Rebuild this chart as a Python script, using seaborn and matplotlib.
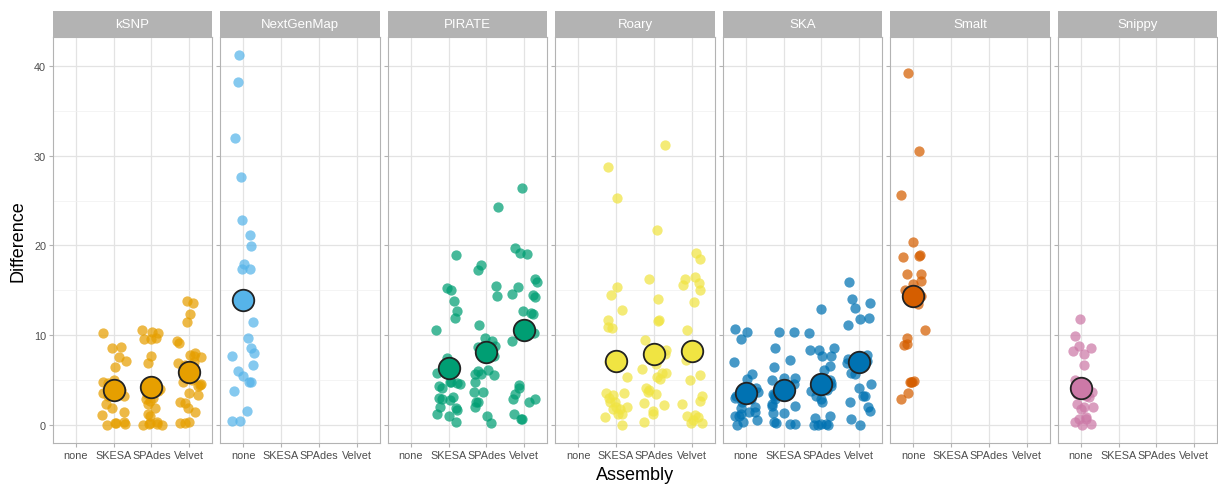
import numpy as np
import pandas as pd
import matplotlib
matplotlib.use("Agg")
import matplotlib.pyplot as plt
from matplotlib.patches import Rectangle
import seaborn as sns

# Categories
assemblies = ["none", "SKESA", "SPAdes", "Velvet"]
tools = ["kSNP", "NextGenMap", "PIRATE", "Roary", "SKA", "Smalt", "Snippy"]
tool_colors = ["#E69F00", "#56B4E9", "#009E73", "#F0E442", "#0072B2", "#D55E00", "#CC79A7"]

# Per-sample differences, by tool and assembler
ksnp_skesa = [10.2, 8.7, 8.5, 7.5, 7.1, 6.4, 5.0, 4.7, 4.6, 4.3, 4.0, 3.9, 3.7, 3.5,
              3.2, 3.2, 2.3, 1.9, 1.4, 1.1, 0.2, 0.1, 0.0, 0.2, 0.3]
ksnp_spades = [10.6, 10.3, 10.2, 9.7, 9.6, 9.5, 7.6, 6.9, 4.6, 4.3, 4.0, 3.8, 3.4,
               3.0, 2.8, 2.6, 2.3, 1.9, 1.2, 1.0, 0.3, 0.1, 0.0, 0.0, 0.1, 0.2]
ksnp_velvet = [13.8, 13.6, 12.3, 11.5, 9.3, 9.1, 8.0, 7.8, 7.6, 7.5, 7.0, 6.9, 6.6,
               5.0, 4.7, 4.5, 4.4, 4.3, 3.5, 3.3, 2.5, 2.4, 1.9, 1.4, 0.3, 0.2, 0.2]
nextgenmap_none = [41.2, 38.2, 32.0, 27.6, 22.8, 21.2, 19.9, 17.9, 17.4, 17.4, 11.4, 9.7,
                   8.5, 8.0, 7.7, 6.6, 6.0, 5.4, 4.7, 4.7, 3.8, 1.5, 0.4, 0.4]
pirate_skesa = [18.9, 15.2, 15.0, 13.8, 12.7, 11.9, 10.5, 7.4, 6.5, 5.8, 4.8, 4.7, 4.6,
                4.5, 4.3, 4.1, 3.1, 3.0, 2.9, 2.7, 2.0, 1.8, 1.6, 1.2, 1.0, 0.3]
pirate_spades = [24.3, 17.8, 17.3, 15.5, 14.4, 11.1, 9.7, 9.3, 8.8, 8.7, 8.2, 7.6, 6.1,
                 6.0, 5.6, 5.6, 5.5, 4.7, 3.6, 3.6, 2.5, 2.5, 2.0, 0.9, 0.2]
pirate_velvet = [26.4, 19.7, 19.1, 19.0, 16.2, 15.9, 15.3, 14.6, 14.5, 14.2, 12.7, 12.4,
                 12.3, 10.8, 10.2, 9.3, 4.4, 4.1, 3.4, 2.9, 2.8, 2.5, 1.2, 0.6, 0.6]
roary_skesa = [28.7, 25.3, 15.3, 14.5, 12.8, 11.7, 10.9, 10.8, 7.5, 7.0, 5.3, 3.5, 3.5,
               3.3, 3.0, 2.5, 2.5, 2.0, 2.0, 1.7, 1.7, 1.2, 1.2, 0.8, 0.0]
roary_spades = [31.2, 21.7, 16.3, 14.0, 11.7, 11.6, 9.4, 8.3, 7.9, 7.4, 6.8, 6.2, 5.8,
                5.8, 5.3, 5.1, 4.1, 3.9, 3.6, 3.4, 2.4, 2.2, 1.5, 1.2, 0.3]
roary_velvet = [19.1, 18.5, 16.5, 16.3, 15.8, 15.6, 15.0, 13.7, 10.6, 8.8, 8.2, 7.2, 5.5,
                5.0, 3.2, 2.6, 2.3, 1.1, 0.9, 0.8, 0.5, 0.2, 0.2]
ska_none = [10.7, 10.3, 9.6, 7.0, 5.6, 5.1, 4.1, 4.0, 3.8, 3.6, 3.2, 3.0, 2.8, 2.8, 2.5,
            2.0, 1.9, 1.4, 1.4, 1.2, 0.9, 0.9, 0.5, 0.3, 0.0]
ska_skesa = [10.3, 10.3, 8.5, 7.2, 6.4, 5.2, 5.2, 5.0, 4.5, 4.3, 4.0, 3.6, 3.4, 3.3, 3.2,
             2.9, 2.3, 2.1, 2.1, 1.3, 1.3, 0.3, 0.2, 0.1, 0.1]
ska_spades = [12.9, 10.2, 8.6, 8.3, 8.3, 7.6, 7.6, 6.5, 6.1, 5.0, 5.0, 4.6, 4.3, 3.9, 3.7,
              3.2, 2.8, 2.5, 1.0, 0.7, 0.1, 0.0, 0.0, 0.0, 0.1]
ska_velvet = [15.9, 14.0, 13.6, 13.0, 11.9, 11.8, 11.1, 7.8, 7.3, 7.1, 6.9, 6.7, 5.8, 5.6,
              4.5, 4.1, 3.2, 3.2, 2.5, 2.0, 1.5, 0.6, 0.0]
smalt_none = [39.2, 30.5, 25.6, 20.4, 18.9, 18.8, 18.7, 16.8, 16.8, 16.0, 15.7, 15.0, 14.5,
              14.3, 13.5, 10.6, 9.7, 9.0, 8.9, 4.9, 4.8, 4.8, 4.7, 3.5, 2.8]
snippy_none = [11.8, 9.9, 8.8, 8.6, 8.2, 7.9, 6.6, 5.0, 4.5, 3.6, 3.4, 3.2, 3.1, 2.3, 2.0,
               2.0, 1.7, 0.8, 0.6, 0.6, 0.3, 0.1, 0.0]

groups = [
    ("kSNP", "SKESA", ksnp_skesa), ("kSNP", "SPAdes", ksnp_spades), ("kSNP", "Velvet", ksnp_velvet),
    ("NextGenMap", "none", nextgenmap_none),
    ("PIRATE", "SKESA", pirate_skesa), ("PIRATE", "SPAdes", pirate_spades), ("PIRATE", "Velvet", pirate_velvet),
    ("Roary", "SKESA", roary_skesa), ("Roary", "SPAdes", roary_spades), ("Roary", "Velvet", roary_velvet),
    ("SKA", "none", ska_none), ("SKA", "SKESA", ska_skesa), ("SKA", "SPAdes", ska_spades), ("SKA", "Velvet", ska_velvet),
    ("Smalt", "none", smalt_none),
    ("Snippy", "none", snippy_none),
]
df = pd.DataFrame(
    [(t, a, v) for t, a, vals in groups for v in vals],
    columns=["Tool", "Assembly", "Difference"],
)

np.random.seed(7)
plt.rcParams["font.family"] = ["Liberation Sans", "DejaVu Sans"]

W, H = 1218, 485
fig, axes = plt.subplots(1, len(tools), figsize=(W / 100, H / 100), dpi=100, sharey=True)
fig.subplots_adjust(left=53 / W, right=1217 / W, bottom=1 - 444 / H, top=1 - 38 / H, wspace=0.053)

ymax = df["Difference"].max()
ymin = df["Difference"].min()
pad = 0.05 * (ymax - ymin)
strip_h = 26 / 406

for ax, tool, col in zip(axes, tools, tool_colors):
    sub = df[df["Tool"] == tool]
    sns.stripplot(data=sub, x="Assembly", y="Difference", order=assemblies, color=col,
                  alpha=0.72, size=7.4, jitter=0.33, linewidth=0, ax=ax, zorder=3)
    sns.pointplot(data=sub, x="Assembly", y="Difference", order=assemblies, color=col,
                  errorbar=None, linestyle="none", marker="o", markersize=15.5,
                  markeredgecolor="#222222", markeredgewidth=1.3, ax=ax)
    for ln in ax.lines:
        ln.set_zorder(5)

    ax.set_xlim(-0.6, 3.6)
    ax.set_ylim(ymin - pad, ymax + pad)
    ax.set_facecolor("white")
    ax.set_yticks([0, 10, 20, 30, 40])
    ax.set_yticks([5, 15, 25, 35], minor=True)
    ax.grid(True, which="major", color="#E3E3E3", linewidth=0.9, zorder=0)
    ax.grid(True, which="minor", axis="y", color="#F0F0F0", linewidth=0.5, zorder=0)
    ax.set_axisbelow(True)
    for sp in ax.spines.values():
        sp.set_visible(True)
        sp.set_color("#B3B3B3")
        sp.set_linewidth(0.8)
    ax.tick_params(axis="both", which="major", length=3, color="#B3B3B3",
                   labelcolor="#4D4D4D", labelsize=7.8, pad=2)
    ax.tick_params(axis="y", which="minor", length=0)
    ax.set_xlabel("")
    ax.set_ylabel("")

    # facet strip
    ax.add_patch(Rectangle((0, 1), 1, strip_h, transform=ax.transAxes, facecolor="#B3B3B3",
                           edgecolor="none", clip_on=False, zorder=6))
    ax.text(0.5, 1 + strip_h / 2, tool, transform=ax.transAxes, ha="center", va="center",
            color="white", fontsize=9.5, zorder=7)

fig.text(635 / W, 1 - 476 / H, "Assembly", ha="center", va="center", fontsize=13, color="black")
fig.text(18 / W, 1 - 241 / H, "Difference", ha="center", va="center", rotation=90,
         fontsize=13, color="black")

fig.savefig("out.png", dpi=100, facecolor="white")
